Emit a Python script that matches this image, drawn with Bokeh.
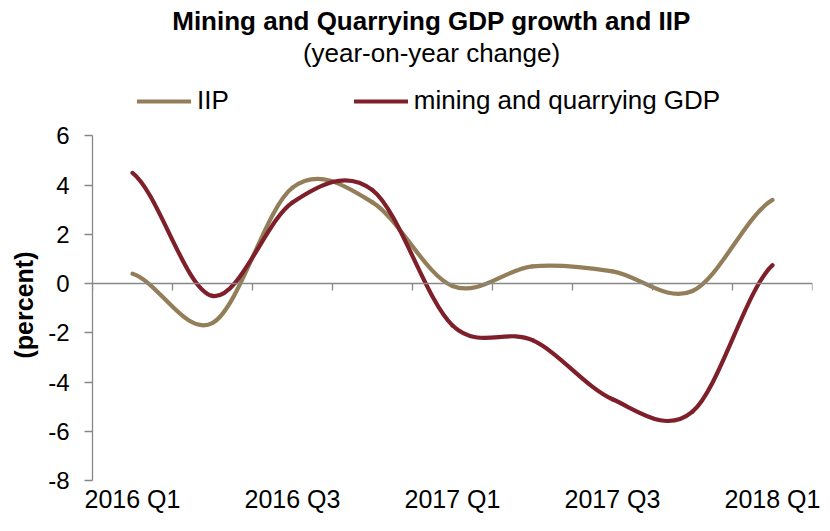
from bokeh.plotting import figure
from bokeh.models import (Range1d, LinearAxis, FixedTicker, Label, Legend,
                          LegendItem, ColumnDataSource, Title)
from bokeh.embed import file_html
from bokeh.resources import INLINE

# ---------------- data ----------------
quarters = ["2016 Q1", "2016 Q2", "2016 Q3", "2016 Q4", "2017 Q1",
            "2017 Q2", "2017 Q3", "2017 Q4", "2018 Q1"]
iip = [0.4, -1.6, 3.9, 3.3, -0.1, 0.7, 0.5, -0.3, 3.4]
gdp = [4.5, -0.5, 3.3, 3.8, -1.7, -2.3, -4.7, -5.2, 0.75]
y_ticks = [-8, -6, -4, -2, 0, 2, 4, 6]
y_tick_labels = ["-8", "-6", "-4", "-2", "0", "2", "4", "6"]
x_label_idx = [0, 2, 4, 6, 8]

TITLE = "Mining and Quarrying GDP growth and IIP"
SUBTITLE = "(year-on-year change)"
Y_LABEL = "(percent)"
IIP_NAME = "IIP"
GDP_NAME = "mining and quarrying GDP"

# ---------------- style / layout ----------------
IIP_COLOR = "#937E5A"
GDP_COLOR = "#7E1F29"
AXIS_COLOR = "#888888"
FONT = "Liberation Sans"

W, H = 822, 515
B_L, B_R, B_T, B_B = 92, 10, 0, 33
FRAME_H = H - B_T - B_B
AXIS_TOP_PX = 136           # distance of the value-axis top from the frame top
y_min, y_max = y_ticks[0], y_ticks[-1]
y_top = y_max + AXIS_TOP_PX * (y_max - y_min) / (FRAME_H - AXIS_TOP_PX)


def smooth_segments(vals):
    """Cubic Bezier segments (Excel-style smoothed line) through the values."""
    n = len(vals)

    def slope(i):
        lo, hi = max(i - 1, 0), min(i + 1, n - 1)
        return (vals[hi] - vals[lo]) / 2.0

    d = dict(x0=[], y0=[], x1=[], y1=[], cx0=[], cy0=[], cx1=[], cy1=[])
    for i in range(n - 1):
        d["x0"].append(i)
        d["y0"].append(vals[i])
        d["x1"].append(i + 1)
        d["y1"].append(vals[i + 1])
        d["cx0"].append(i + 1 / 3)
        d["cy0"].append(vals[i] + slope(i) / 3)
        d["cx1"].append(i + 1 - 1 / 3)
        d["cy1"].append(vals[i + 1] - slope(i + 1) / 3)
    return d


p = figure(width=W, height=H, title=None,
           x_range=Range1d(-0.5, len(quarters) - 0.5),
           y_range=Range1d(y_min, y_top),
           output_backend="svg", toolbar_location=None,
           min_border_left=B_L, min_border_right=B_R,
           min_border_top=B_T, min_border_bottom=B_B)
p.grid.visible = False
p.outline_line_color = None
p.background_fill_color = "white"
p.border_fill_color = "white"

# y axis
ya = p.yaxis[0]
ya.ticker = FixedTicker(ticks=y_ticks)
ya.major_label_overrides = {t: s for t, s in zip(y_ticks, y_tick_labels)}
ya.bounds = (y_min, y_max)
ya.axis_line_color = AXIS_COLOR
ya.axis_line_width = 1.3
ya.major_tick_line_color = AXIS_COLOR
ya.major_tick_line_width = 1.3
ya.major_tick_out = 8
ya.major_tick_in = 0
ya.minor_tick_out = 0
ya.minor_tick_in = 0
ya.major_label_text_font = FONT
ya.major_label_text_font_size = "24px"
ya.major_label_text_color = "black"
ya.major_label_standoff = 15

# value-axis title, rotated, placed in the left panel
p.add_layout(Title(text=Y_LABEL, align="left", offset=FRAME_H - 360,
                   text_font=FONT, text_font_size="25px", text_font_style="bold",
                   text_color="black", standoff=15), "left")

# x axis with the category labels (bottom)
xa = p.xaxis[0]
xa.ticker = FixedTicker(ticks=x_label_idx)
xa.major_label_overrides = {i: quarters[i] for i in x_label_idx}
xa.axis_line_color = None
xa.major_tick_line_color = None
xa.minor_tick_line_color = None
xa.major_tick_out = 0
xa.major_tick_in = 0
xa.major_label_text_font = FONT
xa.major_label_text_font_size = "25px"
xa.major_label_text_color = "black"
xa.major_label_standoff = 4

# category axis crossing at zero, ticks between categories (pointing down)
boundaries = [i - 0.5 for i in range(len(quarters) + 1)]
zero_axis = LinearAxis(fixed_location=0, ticker=FixedTicker(ticks=boundaries),
                       major_label_overrides={b: "" for b in boundaries},
                       major_label_text_font_size="0px",
                       axis_line_color=AXIS_COLOR, axis_line_width=1.3,
                       major_tick_line_color=AXIS_COLOR, major_tick_line_width=1.3,
                       major_tick_out=0, major_tick_in=7,
                       minor_tick_out=0, minor_tick_in=0,
                       major_label_standoff=0)
p.add_layout(zero_axis, "above")

# smoothed series
r_iip = p.bezier(x0="x0", y0="y0", x1="x1", y1="y1", cx0="cx0", cy0="cy0",
                 cx1="cx1", cy1="cy1", source=ColumnDataSource(smooth_segments(iip)),
                 line_color=IIP_COLOR, line_width=4.2, line_cap="round")
r_gdp = p.bezier(x0="x0", y0="y0", x1="x1", y1="y1", cx0="cx0", cy0="cy0",
                 cx1="cx1", cy1="cy1", source=ColumnDataSource(smooth_segments(gdp)),
                 line_color=GDP_COLOR, line_width=4.2, line_cap="round")

legend = Legend(items=[LegendItem(label=IIP_NAME, renderers=[r_iip]),
                       LegendItem(label=GDP_NAME, renderers=[r_gdp])],
                location=(45, FRAME_H - 118), orientation="horizontal",
                spacing=125, glyph_width=54, glyph_height=20, label_standoff=6,
                padding=0, margin=0, border_line_color=None,
                background_fill_alpha=0,
                label_text_font=FONT, label_text_font_size="26px",
                label_text_color="black")
p.add_layout(legend)

p.add_layout(Label(x=339, y=FRAME_H - 22, x_units="screen", y_units="screen",
                   text=TITLE, text_align="center", text_baseline="alphabetic",
                   text_font=FONT, text_font_size="26px", text_font_style="bold",
                   text_color="black"))
p.add_layout(Label(x=339, y=FRAME_H - 54, x_units="screen", y_units="screen",
                   text=SUBTITLE, text_align="center", text_baseline="alphabetic",
                   text_font=FONT, text_font_size="26px", text_color="black"))

open("out.html", "w").write(file_html(p, INLINE))
